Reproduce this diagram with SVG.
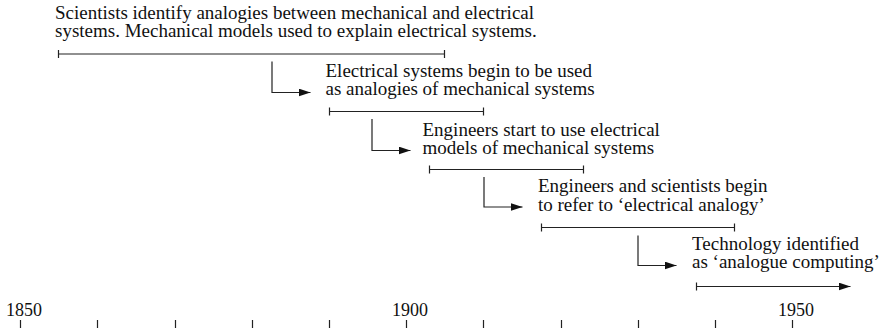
<svg xmlns="http://www.w3.org/2000/svg" width="883" height="328" viewBox="0 0 883 328">
<style>
text { font-family: 'Liberation Serif', 'Times New Roman', serif; font-size: 19px; fill: #111; }
.yr { font-size: 18px; text-anchor: middle; }
.bar, .conn, .tick { stroke: #222; stroke-width: 1.2; fill: none; }
</style>
<defs>
<marker id="ah" viewBox="0 0 12 8" refX="12" refY="4" markerWidth="12" markerHeight="8" markerUnits="userSpaceOnUse" orient="auto">
<path d="M0,0 L12,4 L0,8 Z" fill="#111"/>
</marker>
</defs>
<rect width="883" height="328" fill="#fff"/>

<g id="node1">
<text x="55" y="19">Scientists identify analogies between mechanical and electrical</text>
<text x="55" y="37">systems. Mechanical models used to explain electrical systems.</text>
<path class="bar" d="M58.5,54 H444.5 M58.5,50 V58 M444.5,50 V58"/>
</g>
<g id="node2">
<text x="325.5" y="77">Electrical systems begin to be used</text>
<text x="325.5" y="95">as analogies of mechanical systems</text>
<path class="bar" d="M329.5,111.5 H483.5 M329.5,107.5 V115.5 M483.5,107.5 V115.5"/>
</g>
<g id="node3">
<text x="422.5" y="135.5">Engineers start to use electrical</text>
<text x="422.5" y="153.5">models of mechanical systems</text>
<path class="bar" d="M429.5,169.5 H583.5 M429.5,165.5 V173.5 M583.5,165.5 V173.5"/>
</g>
<g id="node4">
<text x="538" y="192">Engineers and scientists begin</text>
<text x="538" y="210.5">to refer to ‘electrical analogy’</text>
<path class="bar" d="M541.5,227.5 H734.5 M541.5,223.5 V231.5 M734.5,223.5 V231.5"/>
</g>
<g id="node5">
<text x="692" y="249.5">Technology identified</text>
<text x="692" y="268">as ‘analogue computing’</text>
<path class="bar" d="M696.5,282.5 V290.5"/>
<path class="bar" d="M696.5,286.5 H850.5" marker-end="url(#ah)"/>
</g>

<g id="connectors">
<path class="conn" d="M272,61.5 V92.5 H310.5" marker-end="url(#ah)"/>
<path class="conn" d="M372,119 V150.5 H410.5" marker-end="url(#ah)"/>
<path class="conn" d="M484,177 V207 H522.5" marker-end="url(#ah)"/>
<path class="conn" d="M638,235.5 V265.5 H676.5" marker-end="url(#ah)"/>
</g>

<g id="axis">
<text class="yr" x="24" y="316">1850</text>
<text class="yr" x="410" y="316">1900</text>
<text class="yr" x="796" y="316">1950</text>
<path class="tick" d="M20.5,320 V328 M97.5,320 V328 M175.5,320 V328 M252.5,320 V328 M329.5,320 V328 M406.5,320 V328 M483.5,320 V328 M561.5,320 V328 M638.5,320 V328 M715.5,320 V328 M792.5,320 V328"/>
</g>
</svg>
